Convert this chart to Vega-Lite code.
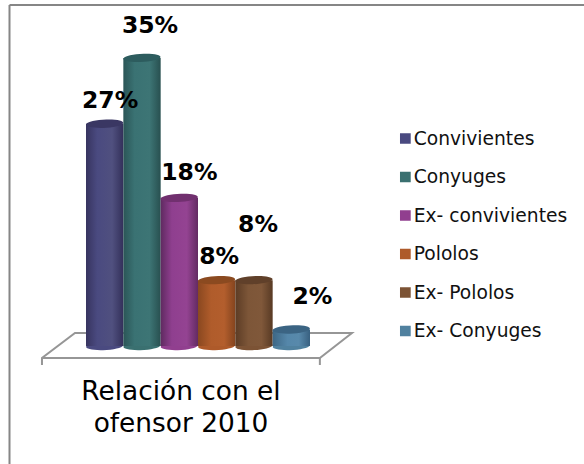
{
"$schema":"https://vega.github.io/schema/vega-lite/v6.json",
"width":575,"height":459.5,"autosize":"none","padding":{"left":9,"top":4.5,"right":0,"bottom":0},"background":"white",
"config":{"view":{"stroke":null},"font":"DejaVu Sans"},
"datasets":{
"bars":[
{"categoria":"Convivientes","valor":27,"etiqueta":"27%","base":0},
{"categoria":"Conyuges","valor":35,"etiqueta":"35%","base":0},
{"categoria":"Ex- convivientes","valor":18,"etiqueta":"18%","base":0},
{"categoria":"Pololos","valor":8,"etiqueta":"8%","base":0},
{"categoria":"Ex- Pololos","valor":8,"etiqueta":"8%","base":0},
{"categoria":"Ex- Conyuges","valor":2,"etiqueta":"2%","base":0}
],
"floor":[
{"lado":"a","orden":1,"px":-1.18,"py":-2.31},{"lado":"a","orden":2,"px":-1.18,"py":-1.46},{"lado":"a","orden":3,"px":-0.295,"py":1.58},{"lado":"a","orden":4,"px":7.13,"py":1.58},{"lado":"a","orden":5,"px":6.27,"py":-1.46},{"lado":"a","orden":6,"px":-1.18,"py":-1.46},
{"lado":"b","orden":7,"px":6.27,"py":-1.46},{"lado":"b","orden":8,"px":6.27,"py":-2.31}
],
"titulo":[{"texto":"Relación con el","px":2.547,"py":-5.6},{"texto":"ofensor 2010","px":2.547,"py":-9.5}]
},
"encoding":{"y":{"type":"quantitative","scale":{"domain":[-14.34,41.49],"nice":false,"zero":false},"axis":{"title":null,"domain":true,"domainColor":"#868686","domainWidth":2,"ticks":false,"labels":false,"grid":false}}},
"layer":[
{"data":{"name":"floor"},"mark":{"type":"line","color":"#969696","strokeWidth":2},
"encoding":{"x":{"field":"px","type":"quantitative","scale":{"domain":[-2.064,13.351],"nice":false,"zero":false},"axis":{"title":null,"orient":"top","domain":true,"domainColor":"#868686","domainWidth":2,"ticks":false,"labels":false,"grid":false}},
"y":{"field":"py","type":"quantitative"},"detail":{"field":"lado"},"order":{"field":"orden"}}},
{"data":{"name":"titulo"},"mark":{"type":"text","fontSize":26.4,"color":"#000000","baseline":"middle","align":"center"},
"encoding":{"x":{"field":"px","type":"quantitative","scale":{"domain":[-2.064,13.351],"nice":false,"zero":false},"axis":null},"y":{"field":"py","type":"quantitative"},"text":{"field":"texto"}}},
{"data":{"name":"bars"},
"encoding":{"x":{"field":"categoria","type":"nominal","sort":null,"scale":{"type":"band","domain":["Convivientes","Conyuges","Ex- convivientes","Pololos","Ex- Pololos","Ex- Conyuges"],"range":[77,301],"paddingInner":0,"paddingOuter":0},"axis":null}},
"layer":[
{"mark":{"type":"point","filled":true,"opacity":1,"shape":"M-1,0.03 A1,0.22 -3 1 1 1,-0.03 A1,0.22 -3 1 1 -1,0.03 Z","size":1369},
"encoding":{"y":{"field":"base","type":"quantitative"},"color":{"field":"categoria","type":"nominal","sort":null,"scale":{"domain":["Convivientes","Conyuges","Ex- convivientes","Pololos","Ex- Pololos","Ex- Conyuges"],"range":["#4a4a80","#3a7070","#913f8f","#ae5a2a","#7c5335","#50819f"]},
"legend":{"title":null,"orient":"none","legendX":387,"legendY":125,"symbolType":"square","symbolSize":115,"symbolStrokeWidth":0,"labelFontSize":18.7,"labelColor":"#111111","labelOffset":-1,"rowPadding":19.5,"labelLimit":200,"clipHeight":18}}}},
{"transform":[{"filter":"datum.categoria==='Convivientes'"}],"mark":{"type":"bar","fill":{"gradient":"linear","x1":0,"x2":1,"y1":0,"y2":0,"stops":[{"offset":0,"color":"#37345f"},{"offset":0.3,"color":"#4a4a80"},{"offset":0.7,"color":"#50507f"},{"offset":1,"color":"#33305a"}]}},"encoding":{"y":{"field":"base","type":"quantitative"},"y2":{"field":"valor"}}},
{"transform":[{"filter":"datum.categoria==='Conyuges'"}],"mark":{"type":"bar","fill":{"gradient":"linear","x1":0,"x2":1,"y1":0,"y2":0,"stops":[{"offset":0,"color":"#2b5657"},{"offset":0.3,"color":"#3a7273"},{"offset":0.7,"color":"#3d7575"},{"offset":1,"color":"#285050"}]}},"encoding":{"y":{"field":"base","type":"quantitative"},"y2":{"field":"valor"}}},
{"transform":[{"filter":"datum.categoria==='Ex- convivientes'"}],"mark":{"type":"bar","fill":{"gradient":"linear","x1":0,"x2":1,"y1":0,"y2":0,"stops":[{"offset":0,"color":"#5f2a60"},{"offset":0.3,"color":"#8f3f8f"},{"offset":0.7,"color":"#944392"},{"offset":1,"color":"#632b62"}]}},"encoding":{"y":{"field":"base","type":"quantitative"},"y2":{"field":"valor"}}},
{"transform":[{"filter":"datum.categoria==='Pololos'"}],"mark":{"type":"bar","fill":{"gradient":"linear","x1":0,"x2":1,"y1":0,"y2":0,"stops":[{"offset":0,"color":"#8a4820"},{"offset":0.35,"color":"#b05c2b"},{"offset":0.7,"color":"#b35e2d"},{"offset":1,"color":"#84441e"}]}},"encoding":{"y":{"field":"base","type":"quantitative"},"y2":{"field":"valor"}}},
{"transform":[{"filter":"datum.categoria==='Ex- Pololos'"}],"mark":{"type":"bar","fill":{"gradient":"linear","x1":0,"x2":1,"y1":0,"y2":0,"stops":[{"offset":0,"color":"#5c3c25"},{"offset":0.35,"color":"#7d5638"},{"offset":0.7,"color":"#80583a"},{"offset":1,"color":"#583a24"}]}},"encoding":{"y":{"field":"base","type":"quantitative"},"y2":{"field":"valor"}}},
{"transform":[{"filter":"datum.categoria==='Ex- Conyuges'"}],"mark":{"type":"bar","fill":{"gradient":"linear","x1":0,"x2":1,"y1":0,"y2":0,"stops":[{"offset":0,"color":"#3d6785"},{"offset":0.4,"color":"#5587aa"},{"offset":0.7,"color":"#5889ab"},{"offset":1,"color":"#386080"}]}},"encoding":{"y":{"field":"base","type":"quantitative"},"y2":{"field":"valor"}}},
{"mark":{"type":"point","filled":true,"opacity":1,"shape":"M-1,0.03 A1,0.22 -3 1 1 1,-0.03 A1,0.22 -3 1 1 -1,0.03 Z","size":1369},
"encoding":{"y":{"field":"valor","type":"quantitative"},"fill":{"field":"categoria","type":"nominal","sort":null,"legend":null,"scale":{"domain":["Convivientes","Conyuges","Ex- convivientes","Pololos","Ex- Pololos","Ex- Conyuges"],"range":["#3a3763","#2d5c5e","#71306f","#8b4a20","#60402a","#3b6483"]}}}},
{"transform":[{"filter":"datum.categoria==='Convivientes'"}],"mark":{"type":"text","fontSize":23.5,"fontWeight":"bold","color":"#000","dx":5.4,"dy":-23,"baseline":"middle"},"encoding":{"y":{"field":"valor","type":"quantitative"},"text":{"field":"etiqueta"}}},
{"transform":[{"filter":"datum.categoria==='Conyuges'"}],"mark":{"type":"text","fontSize":23.5,"fontWeight":"bold","color":"#000","dx":8,"dy":-32,"baseline":"middle"},"encoding":{"y":{"field":"valor","type":"quantitative"},"text":{"field":"etiqueta"}}},
{"transform":[{"filter":"datum.categoria==='Ex- convivientes'"}],"mark":{"type":"text","fontSize":23.5,"fontWeight":"bold","color":"#000","dx":10,"dy":-25,"baseline":"middle"},"encoding":{"y":{"field":"valor","type":"quantitative"},"text":{"field":"etiqueta"}}},
{"transform":[{"filter":"datum.categoria==='Pololos'"}],"mark":{"type":"text","fontSize":23.5,"fontWeight":"bold","color":"#000","dx":2.5,"dy":-23,"baseline":"middle"},"encoding":{"y":{"field":"valor","type":"quantitative"},"text":{"field":"etiqueta"}}},
{"transform":[{"filter":"datum.categoria==='Ex- Pololos'"}],"mark":{"type":"text","fontSize":23.5,"fontWeight":"bold","color":"#000","dx":4,"dy":-55,"baseline":"middle"},"encoding":{"y":{"field":"valor","type":"quantitative"},"text":{"field":"etiqueta"}}},
{"transform":[{"filter":"datum.categoria==='Ex- Conyuges'"}],"mark":{"type":"text","fontSize":23.5,"fontWeight":"bold","color":"#000","dx":21,"dy":-33,"baseline":"middle"},"encoding":{"y":{"field":"valor","type":"quantitative"},"text":{"field":"etiqueta"}}}
]
}
],
"resolve":{"scale":{"x":"independent"}}
}
